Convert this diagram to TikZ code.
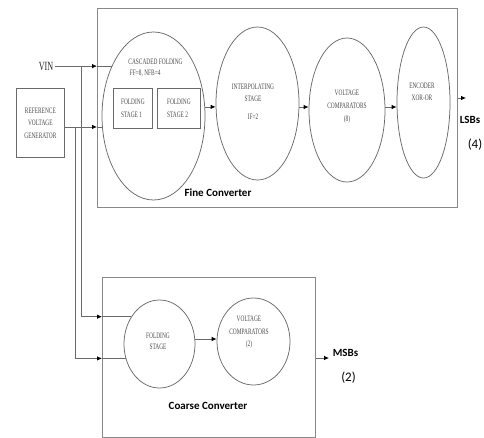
\documentclass[tikz,border=0pt]{standalone}
\usepackage{fontspec}
\setmainfont{Liberation Serif}
\newfontfamily\nf{Liberation Serif}[FakeStretch=0.65]
\newfontfamily\lf{Carlito}
\usetikzlibrary{shapes.geometric,arrows.meta}
\definecolor{linec}{HTML}{6A6A6A}
\definecolor{boxc}{HTML}{888888}
\definecolor{txtc}{HTML}{4A4A4A}
\begin{document}
\begin{tikzpicture}[x=1pt,y=-1pt,
  ell/.style={ellipse,draw=linec,line width=0.75pt,inner sep=0pt},
  frame/.style={draw=boxc,line width=1pt,inner sep=0pt,anchor=north west},
  sbox/.style={draw=linec,line width=0.75pt,anchor=north west},
  small/.style={font=\nf\fontsize{8.3}{12.5}\selectfont,text=txtc,inner sep=0pt,align=center},
  lab/.style={font=\lf\bfseries\fontsize{11}{13}\selectfont,inner sep=0pt},
  num/.style={font=\lf\fontsize{13}{15}\selectfont,inner sep=0pt},
  wire/.style={draw=linec,line width=0.75pt},
  arr/.style={wire,-{Latex[length=5pt,width=4.5pt,color=black]}},
]
\useasboundingbox (0,0) rectangle (484,438);
% frames
\node[frame,minimum width=360pt,minimum height=199pt] (fine) at (97,8) {};
\node[frame,minimum width=213pt,minimum height=160pt] (coarse) at (102,277) {};
% reference voltage generator
\node[small,sbox,inner sep=0pt,minimum width=48pt,minimum height=69pt] (rvg) at (16,88) {REFERENCE\\VOLTAGE\\GENERATOR};
% fine converter blocks
\node[ell,minimum width=103pt,minimum height=168pt] (casc) at (153.5,116) {};
\node[small,align=left] (casct) at (155.5,67.5) {CASCADED FOLDING\\[-1.5pt]\,FF=8, NFB=4};
\node[small,sbox,align=left,inner sep=0pt,minimum width=39pt,minimum height=40pt] (fs1) at (113,88) {FOLDING\\STAGE 1};
\node[small,sbox,align=left,inner sep=0pt,minimum width=43pt,minimum height=40pt] (fs2) at (157,88) {FOLDING\\STAGE 2};
\node[ell,minimum width=83pt,minimum height=153pt] (interp) at (257.5,103.5) {};
\node[small] (interpt) at (253,101.5) {INTERPOLATING\\STAGE\\[5pt]IF=2};
\node[ell,minimum width=76pt,minimum height=144pt] (vc) at (347,110) {};
\node[small] (vct) at (347,106.5) {VOLTAGE\\[0.5pt]COMPARATORS\\[0.5pt](8)};
\node[ell,minimum width=53pt,minimum height=151pt] (enc) at (423.5,102.5) {};
\node[small] (enct) at (422,92) {ENCODER\\[-0.5pt]XOR-OR};
\node[lab] (finel) at (218,193) {Fine Converter};
% coarse converter blocks
\node[ell,minimum width=71pt,minimum height=88pt] (fold) at (159.5,344) {};
\node[small] (foldt) at (158,341.5) {FOLDING\\[-1.5pt]STAGE};
\node[ell,minimum width=73pt,minimum height=87pt] (vc2) at (253.5,341.5) {};
\node[small] (vc2t) at (249,332.5) {VOLTAGE\\COMPARATORS\\(2)};
\node[lab] (coarsel) at (208,406) {Coarse Converter};
% outputs
\node[lab] (lsb) at (470,120) {LSBs};
\node[num] (lsbn) at (475,145) {(4)};
\node[lab] (msb) at (345.5,353) {MSBs};
\node[num] (msbn) at (348.5,378) {(2)};
% input
\coordinate (xv) at (55,0);
\node[font=\nf\fontsize{12.5}{14}\selectfont,text=black!85,inner sep=0pt,inner xsep=1.5pt,anchor=east] (vin) at (casc.130.5 -| xv) {VIN};
% connectors
\draw[arr] (vin.east) -- (vin.east -| fine.west);
\draw[wire] (vin.east -| fine.west) -- (casc.130.5);
\draw[arr] (casc.192 -| rvg.east) -- (casc.192 -| fine.west);
\draw[wire] (casc.192 -| fine.west) -- (casc.192);
\coordinate (xa) at (81,0);
\coordinate (xb) at (75,0);
\draw[arr] (vin.east -| xa) |- (fold.136 -| coarse.west);
\draw[wire] (fold.136 -| coarse.west) -- (fold.136);
\draw[arr] (casc.192 -| xb) |- (fold.203 -| coarse.west);
\draw[wire] (fold.203 -| coarse.west) -- (fold.203);
\coordinate (yf) at (0,107);
\draw[arr] (casc.10) -- (casc.10 -| interp.west);
\draw[arr] (interp.east |- yf) -- (yf -| vc.west);
\draw[arr] (vc.east |- yf) -- (yf -| enc.west);
\coordinate (lsbtip) at (466,98);
\draw[arr] (lsbtip -| fine.east) -- (lsbtip);
\coordinate (yc) at (0,339);
\draw[arr] (fold.east |- yc) -- (yc -| vc2.west);
\coordinate (msbtip) at (329,358);
\draw[arr] (msbtip -| coarse.east) -- (msbtip);
\end{tikzpicture}
\end{document}
